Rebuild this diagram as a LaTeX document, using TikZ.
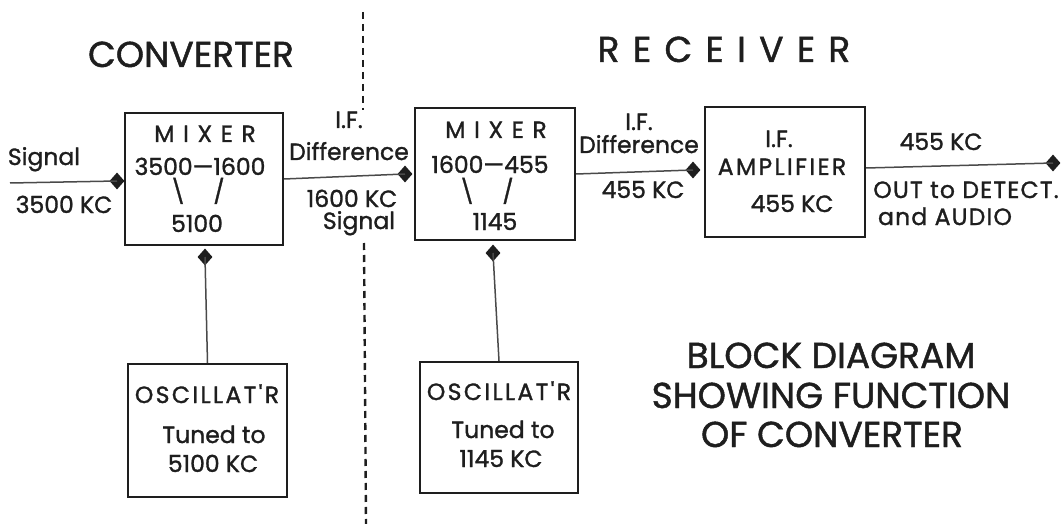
\documentclass[tikz,border=0pt]{standalone}
\usepackage{fontspec}
\setmainfont{Poppins}
\newfontfamily\bodyfam{Poppins}[FakeBold=1.2]
\newfontfamily\capsfam{Poppins}[FakeBold=1.2,LetterSpace=10]
\newfontfamily\midfam{Poppins}[FakeBold=1.2,LetterSpace=5]
\usetikzlibrary{shapes.geometric}
\definecolor{ink}{HTML}{1E1E1E}
\definecolor{wirec}{HTML}{4A4A4A}
\newcommand\bodyfont{\bodyfam\fontsize{23.5}{28}\selectfont}
\newcommand\capsfont{\capsfam\fontsize{23.5}{28}\selectfont}
\newcommand\midfont{\midfam\fontsize{23.5}{28}\selectfont}
\newcommand\titlefont{\bodyfam\fontsize{36}{42}\selectfont}
\newcommand\titlecaps{\capsfam\fontsize{36}{42}\selectfont}
\begin{document}
\begin{tikzpicture}[x=1pt,y=-1pt,
  blockbox/.style={draw=ink,line width=2.2pt,inner sep=0pt,rectangle},
  dia/.style={diamond,fill=ink,inner sep=0pt,minimum width=15pt,minimum height=17pt},
  wire/.style={draw=wirec,line width=1.5pt},
  sep/.style={draw=ink,line width=2.4pt,dash pattern=on 7pt off 5pt},
  t/.style={anchor=base,inner sep=0pt,text=ink,font=\bodyfont},
  tc/.style={t,font=\capsfont},
  tm/.style={t,font=\midfont},
  ttl/.style={anchor=base,inner sep=0pt,text=ink,font=\titlefont}]
\useasboundingbox (0,0) rectangle (1063,524);
\fill[white] (0,0) rectangle (1063,524);
% boxes
\node[blockbox,minimum width=158pt,minimum height=132pt] (m1) at (204,179) {};
\node[blockbox,minimum width=160pt,minimum height=132pt] (m2) at (495,174) {};
\node[blockbox,minimum width=160pt,minimum height=130pt] (amp) at (785,172) {};
\node[blockbox,minimum width=159pt,minimum height=133pt] (osc1) at (207.5,430.5) {};
\node[blockbox,minimum width=158pt,minimum height=131pt] (osc2) at (499,427.5) {};
% diamonds
\node[dia] (d1) at (117,181) {};
\node[dia] (d2) at (405,174) {};
\node[dia] (d3) at (693,170) {};
\node[dia] (d4) at (1053,163) {};
\node[dia] (d5) at (205,257) {};
\node[dia] (d6) at (493,253) {};
\coordinate (sig) at (10,183);
% connectors
\draw[wire] (sig) -- (d1.center);
\draw[wire] (m1.east) -- (d2.center);
\draw[wire] (m2.east) -- (d3.center);
\draw[wire] ([yshift=4pt]amp.east) -- (d4.center);
\draw[wire] (osc1.north) -- (d5.center);
\draw[wire] (osc2.north) -- (d6.center);
% separator
\coordinate (s1) at (363,12);
\coordinate (s2) at (363,110);
\coordinate (s3) at (364,243);
\coordinate (s4) at (366,524);
\draw[sep] (s1) -- (s2);
\draw[sep] (s3) -- (s4);
% titles
\node[ttl] (tconv) at (191,67) {CONVERTER};
\node[ttl,font=\titlecaps] (trec) at (724,62) {R E C E I V E R};
\node[ttl] (tb1) at (831,368) {BLOCK DIAGRAM};
\node[ttl] (tb2) at (831,408) {SHOWING FUNCTION};
\node[ttl] (tb3) at (832,447) {OF CONVERTER};
% input labels
\node[t] (l1) at (44,165) {Signal};
\node[t] (l2) at (64,213) {3500 KC};
% mixer 1
\node[tc] (m1a) at (205,142) {M I X E R};
\node[t] (m1b) at (200,175) {3500—1600};
\node[t] (m1c) at (178,200) {\textbackslash};
\node[t] (m1d) at (219,200) {/};
\node[t] (m1e) at (197,232) {5100};
% between mixers
\node[t] (l3) at (349,128) {I.F.};
\node[t] (l4) at (349,160) {Difference};
\node[t] (l5) at (352,207) {1600 KC};
\node[t] (l6) at (359,229) {Signal};
% mixer 2
\node[tc] (m2a) at (496,138) {M I X E R};
\node[t] (m2b) at (490,173) {1600—455};
\node[t] (m2c) at (467,200) {\textbackslash};
\node[t] (m2d) at (508,200) {/};
\node[t] (m2e) at (495,230) {1145};
% between mixer 2 and amp
\node[t] (l7) at (639,130) {I.F.};
\node[t] (l8) at (639,153) {Difference};
\node[t] (l9) at (643,198) {455 KC};
% amp
\node[t] (a1) at (779,147) {I.F.};
\node[tc] (a2) at (782,175) {AMPLIFIER};
\node[t] (a3) at (792,212) {455 KC};
% output
\node[t] (o1) at (941,150) {455 KC};
\node[tm] (o2) at (966,198) {OUT to DETECT.};
\node[tm] (o3) at (945,225) {and AUDIO};
% oscillators
\node[tc] (c1) at (207,403) {OSCILLAT'R};
\node[t] (c2) at (214,443) {Tuned to};
\node[t] (c3) at (213,472) {5100 KC};
\node[tc] (e1) at (499,400) {OSCILLAT'R};
\node[t] (e2) at (503,438) {Tuned to};
\node[t] (e3) at (501,467) {1145 KC};
\end{tikzpicture}
\end{document}
